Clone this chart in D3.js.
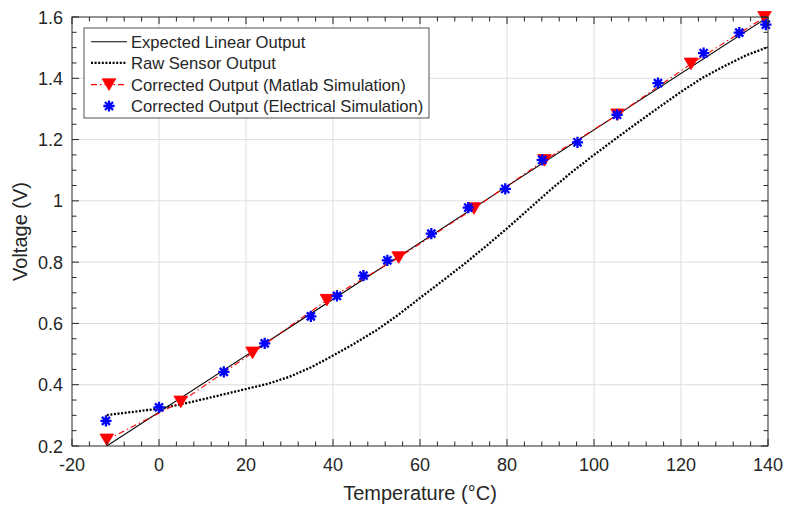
<!DOCTYPE html>
<html><head><meta charset="utf-8">
<script src="https://cdn.jsdelivr.net/npm/d3@7"></script>
<style>
body{margin:0;background:#fff}
text{font-family:"Liberation Sans",Arial,Helvetica,sans-serif;fill:#262626}
</style>
</head><body>
<svg id="chart" width="789" height="508"></svg>
<script>
// ---- data ----
const xTickValues = [-20, 0, 20, 40, 60, 80, 100, 120, 140];
const xTickLabels = ["-20", "0", "20", "40", "60", "80", "100", "120", "140"];
const yTickValues = [0.2, 0.4, 0.6, 0.8, 1.0, 1.2, 1.4, 1.6];
const yTickLabels = ["0.2", "0.4", "0.6", "0.8", "1", "1.2", "1.4", "1.6"];

const linearX = [-12, 140];
const linearY = [0.2, 1.6];

const rawX = [-12, -5, 0, 5, 10, 15, 20, 25, 30, 35, 40, 45, 50, 55, 60, 65, 70, 75, 80, 85, 90, 95, 100, 105, 110, 115, 120, 125, 130, 135, 140];
const rawY = [0.301, 0.313, 0.322, 0.336, 0.352, 0.369, 0.386, 0.403, 0.426, 0.457, 0.495, 0.535, 0.578, 0.628, 0.683, 0.737, 0.792, 0.850, 0.910, 0.973, 1.036, 1.095, 1.150, 1.203, 1.255, 1.306, 1.356, 1.402, 1.440, 1.475, 1.502];

const matlabX = [-12, 5.0, 21.5, 38.6, 55.1, 72.4, 88.6, 105.4, 122.3, 139.2];
const matlabY = [0.220, 0.344, 0.504, 0.676, 0.815, 0.975, 1.132, 1.281, 1.447, 1.599];

const elecX = [-12.2, 0, 14.9, 24.3, 34.9, 40.9, 47.0, 52.5, 62.6, 71.1, 79.6, 88.1, 96.2, 105.3, 114.7, 125.2, 133.4, 139.5];
const elecY = [0.282, 0.326, 0.442, 0.535, 0.623, 0.690, 0.756, 0.806, 0.893, 0.978, 1.039, 1.134, 1.191, 1.281, 1.384, 1.482, 1.549, 1.575];

const legendLabels = ["Expected Linear Output", "Raw Sensor Output", "Corrected Output (Matlab Simulation)", "Corrected Output (Electrical Simulation)"];
const xLabel = "Temperature (°C)";
const yLabel = "Voltage (V)";

// ---- layout ----
const L = 72, R = 768, T = 17, B = 446;
const axisColor = "#262626";
const svg = d3.select("#chart");
const x = d3.scaleLinear().domain([-20, 140]).range([L, R]);
const y = d3.scaleLinear().domain([0.2, 1.6]).range([B, T]);

svg.append("defs").append("clipPath").attr("id", "clip")
  .append("rect").attr("x", L).attr("y", T).attr("width", R - L).attr("height", B - T);

// grid
const grid = svg.append("g").attr("stroke", "#dedede").attr("stroke-width", 1);
xTickValues.slice(1, -1).forEach(v => grid.append("line")
  .attr("x1", x(v)).attr("x2", x(v)).attr("y1", T).attr("y2", B));
yTickValues.slice(1, -1).forEach(v => grid.append("line")
  .attr("x1", L).attr("x2", R).attr("y1", y(v)).attr("y2", y(v)));

// lines
const lineGen = d3.line().x(d => x(d[0])).y(d => y(d[1]));
const plot = svg.append("g").attr("clip-path", "url(#clip)");

plot.append("path")
  .attr("d", lineGen(d3.zip(rawX, rawY)))
  .attr("fill", "none").attr("stroke", "#000").attr("stroke-width", 2.3)
  .attr("stroke-dasharray", "2,1.6");

plot.append("path")
  .attr("d", lineGen(d3.zip(linearX, linearY)))
  .attr("fill", "none").attr("stroke", "#000").attr("stroke-width", 1.1);

plot.append("path")
  .attr("d", lineGen(d3.zip(matlabX, matlabY)))
  .attr("fill", "none").attr("stroke", "#ff0000").attr("stroke-width", 1.1)
  .attr("stroke-dasharray", "6,3,1.5,3");

// markers
function triPath(cx, cy) {
  const w = 6.8, h = 5.8;
  return `M${cx - w},${cy - h}L${cx + w},${cy - h}L${cx},${cy + h}Z`;
}
function starPath(cx, cy) {
  const r = 5.6, d = r * 0.72;
  return `M${cx - r},${cy}L${cx + r},${cy}M${cx},${cy - r}L${cx},${cy + r}` +
         `M${cx - d},${cy - d}L${cx + d},${cy + d}M${cx - d},${cy + d}L${cx + d},${cy - d}`;
}
svg.append("g").selectAll("path").data(d3.zip(matlabX, matlabY)).join("path")
  .attr("d", d => triPath(x(d[0]), y(d[1])))
  .attr("fill", "#ff0000").attr("stroke", "#ff0000").attr("stroke-width", 0.8);

svg.append("g").selectAll("path").data(d3.zip(elecX, elecY)).join("path")
  .attr("d", d => starPath(x(d[0]), y(d[1])))
  .attr("fill", "none").attr("stroke", "#0000ff").attr("stroke-width", 2.3);

// axes box and ticks
const ax = svg.append("g").attr("stroke", axisColor).attr("stroke-width", 1).attr("fill", "none");
ax.append("rect").attr("x", L).attr("y", T).attr("width", R - L).attr("height", B - T);
const xMinor = d3.range(-20, 140.001, 4);
const yMinor = d3.range(0.2, 1.6001, 0.05);
xMinor.forEach(v => {
  const major = xTickValues.some(t => Math.abs(t - v) < 1e-6);
  const len = major ? 7 : 4.5;
  ax.append("line").attr("x1", x(v)).attr("x2", x(v)).attr("y1", B).attr("y2", B - len);
  ax.append("line").attr("x1", x(v)).attr("x2", x(v)).attr("y1", T).attr("y2", T + len);
});
yMinor.forEach(v => {
  const major = yTickValues.some(t => Math.abs(t - v) < 1e-6);
  const len = major ? 7 : 4.5;
  ax.append("line").attr("x1", L).attr("x2", L + len).attr("y1", y(v)).attr("y2", y(v));
  ax.append("line").attr("x1", R).attr("x2", R - len).attr("y1", y(v)).attr("y2", y(v));
});

// tick labels
svg.append("g").selectAll("text").data(xTickValues).join("text")
  .attr("x", d => x(d)).attr("y", 471).attr("text-anchor", "middle")
  .attr("font-size", 18).text((d, i) => xTickLabels[i]);
svg.append("g").selectAll("text").data(yTickValues).join("text")
  .attr("x", 63).attr("y", d => y(d) + 6.5).attr("text-anchor", "end")
  .attr("font-size", 18).text((d, i) => yTickLabels[i]);

// axis labels
svg.append("text").attr("x", (L + R) / 2).attr("y", 500).attr("text-anchor", "middle")
  .attr("font-size", 20).text(xLabel);
svg.append("text").attr("transform", `translate(27,${(T + B) / 2}) rotate(-90)`)
  .attr("text-anchor", "middle").attr("font-size", 20).text(yLabel);

// legend
const lg = svg.append("g");
lg.append("rect").attr("x", 84).attr("y", 28).attr("width", 345).attr("height", 90)
  .attr("fill", "#fff").attr("stroke", axisColor).attr("stroke-width", 0.8);
const rowsY = [41.7, 62.9, 84.6, 106];
const sx1 = 91, sx2 = 127, sxm = 109;
lg.append("line").attr("x1", sx1).attr("x2", sx2).attr("y1", rowsY[0]).attr("y2", rowsY[0])
  .attr("stroke", "#000").attr("stroke-width", 1.1);
lg.append("line").attr("x1", sx1).attr("x2", sx2).attr("y1", rowsY[1]).attr("y2", rowsY[1])
  .attr("stroke", "#000").attr("stroke-width", 2.3).attr("stroke-dasharray", "2,1.6");
lg.append("line").attr("x1", sx1).attr("x2", sx2).attr("y1", rowsY[2]).attr("y2", rowsY[2])
  .attr("stroke", "#ff0000").attr("stroke-width", 1.1).attr("stroke-dasharray", "6,3,1.5,3");
lg.append("path").attr("d", triPath(sxm, rowsY[2])).attr("fill", "#ff0000").attr("stroke", "#ff0000").attr("stroke-width", 0.8);
lg.append("path").attr("d", starPath(sxm, rowsY[3])).attr("fill", "none").attr("stroke", "#0000ff").attr("stroke-width", 2.3);
lg.selectAll("text.lab").data(legendLabels).join("text").attr("class", "lab")
  .attr("x", 131).attr("y", (d, i) => rowsY[i] + 5.9).attr("font-size", 16.6).text(d => d);
</script>
</body></html>
